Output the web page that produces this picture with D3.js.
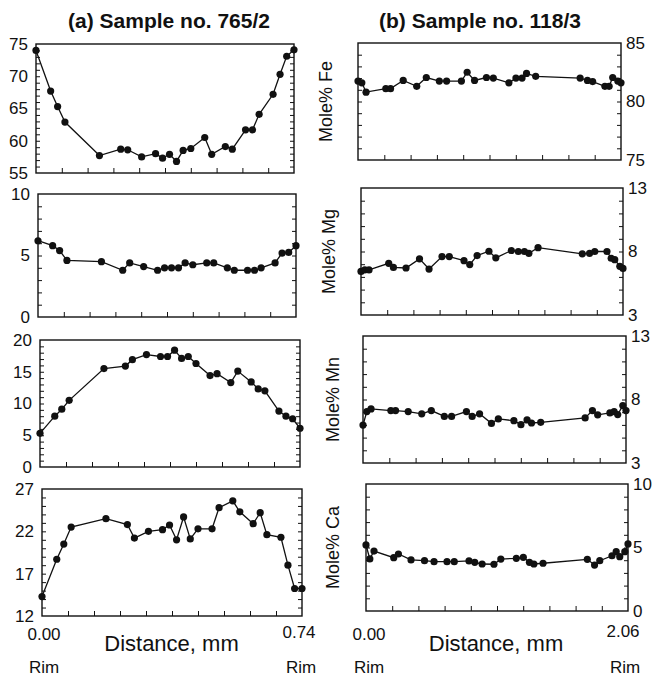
<!DOCTYPE html>
<html>
<head>
<meta charset="utf-8">
<script src="https://cdn.jsdelivr.net/npm/d3@7"></script>
<style>
body { margin: 0; background: #fff; }
svg { display: block; }
text { font-family: "Liberation Sans", Arial, Helvetica, sans-serif; fill: #111; }
</style>
</head>
<body>
<svg width="654" height="677"></svg>
<script>
// sample 765/2 : distance (mm) of each spot along the traverse
var distA = [0, 0.042, 0.062, 0.083, 0.182, 0.243, 0.263, 0.303, 0.343, 0.363, 0.383, 0.403, 0.422,
             0.444, 0.484, 0.504, 0.543, 0.563, 0.601, 0.621, 0.640, 0.680, 0.700, 0.719, 0.740];
var feA = [74.0, 67.7, 65.3, 62.9, 57.7, 58.7, 58.6, 57.5, 58.0, 57.3, 57.9, 56.8, 58.5,
           58.8, 60.5, 57.9, 59.1, 58.7, 61.7, 61.7, 64.1, 67.2, 70.3, 73.1, 74.1];
var mgA = [6.2, 5.8, 5.4, 4.6, 4.5, 3.8, 4.4, 4.1, 3.8, 4.0, 4.0, 4.0, 4.4,
           4.25, 4.4, 4.4, 4.0, 3.8, 3.8, 3.8, 4.0, 4.4, 5.2, 5.25, 5.8];
var mnA = [5.3, 8.0, 9.1, 10.5, 15.5, 15.9, 16.9, 17.7, 17.4, 17.4, 18.4, 17.1, 17.4,
           16.3, 14.4, 14.7, 13.3, 15.1, 13.4, 12.3, 12.0, 8.8, 8.0, 7.6, 6.1];
var caA = [14.3, 18.7, 20.5, 22.5, 23.5, 22.8, 21.2, 22.0, 22.2, 22.75, 21.0, 23.7, 21.1,
           22.3, 22.3, 24.8, 25.6, 24.3, 22.9, 24.2, 21.6, 21.3, 18.0, 15.25, 15.25];

// sample 118/3
var distB = [0, 0.030, 0.063, 0.218, 0.255, 0.354, 0.460, 0.535, 0.637, 0.694, 0.810, 0.855, 0.913, 1.006,
             1.060, 1.182, 1.237, 1.285, 1.320, 1.392, 1.740, 1.797, 1.838, 1.934, 1.967, 1.995, 2.035, 2.060];
var feB = [81.75, 81.6, 80.8, 81.1, 81.1, 81.8, 81.3, 82.05, 81.75, 81.75, 81.75, 82.5, 81.8, 82.05,
           82.0, 81.6, 82.0, 82.0, 82.4, 82.15, 82.0, 81.8, 81.7, 81.3, 81.3, 82.05, 81.75, 81.6];
var mgB = [6.43, 6.55, 6.55, 7.07, 6.75, 6.7, 7.42, 6.62, 7.6, 7.6, 7.28, 6.97, 7.68, 8.02,
           7.5, 8.08, 8.0, 8.0, 7.86, 8.3, 7.82, 7.86, 8.0, 8.0, 7.47, 7.36, 6.83, 6.67];
var mnB = [5.99, 7.05, 7.26, 7.13, 7.13, 7.05, 6.87, 7.13, 6.67, 6.67, 7.05, 6.67, 6.87, 6.12,
           6.47, 6.33, 6.02, 6.39, 6.15, 6.2, 6.55, 7.13, 6.79, 6.94, 7.05, 6.81, 7.52, 7.13];
var caB = [5.2, 4.1, 4.72, 4.2, 4.49, 4.02, 3.96, 3.88, 3.88, 3.88, 3.94, 3.83, 3.7, 3.68,
           4.09, 4.15, 4.23, 3.83, 3.7, 3.76, 4.07, 3.62, 3.96, 4.35, 4.67, 4.28, 4.67, 5.28];

// tick labels
var ticksFeA = [55, 60, 65, 70, 75], ticksMgA = [0, 5, 10], ticksMnA = [0, 5, 10, 15, 20], ticksCaA = [12, 17, 22, 27];
var ticksFeB = [75, 80, 85], ticksMgB = [3, 8, 13], ticksMnB = [3, 8, 13], ticksCaB = [0, 5, 10];
var yLabelsB = ['Mole% Fe', 'Mole% Mg', 'Mole% Mn', 'Mole% Ca'];

var svg = d3.select('svg');
var ink = '#111';

// box = [left, right, top, bottom] (the scan is slightly skewed)
var panels = [
  {side: 'left',  dist: distA, vals: feA, dom: [55, 75], labels: ticksFeA, box: [36, 294, 44, 173]},
  {side: 'left',  dist: distA, vals: mgA, dom: [0, 10],  labels: ticksMgA, box: [38, 296, 194, 317]},
  {side: 'left',  dist: distA, vals: mnA, dom: [0, 20],  labels: ticksMnA, box: [40, 300, 340, 467]},
  {side: 'left',  dist: distA, vals: caA, dom: [12, 27], labels: ticksCaA, box: [42, 302, 489, 616]},
  {side: 'right', dist: distB, vals: feB, dom: [75, 85], labels: ticksFeB, box: [358, 621, 43, 160], ylab: yLabelsB[0], lx: 332},
  {side: 'right', dist: distB, vals: mgB, dom: [3, 13],  labels: ticksMgB, box: [361, 623, 188, 315], ylab: yLabelsB[1], lx: 335},
  {side: 'right', dist: distB, vals: mnB, dom: [3, 13],  labels: ticksMnB, box: [363, 626, 336, 463], ylab: yLabelsB[2], lx: 339},
  {side: 'right', dist: distB, vals: caB, dom: [0, 10],  labels: ticksCaB, box: [366, 628, 484, 611], ylab: yLabelsB[3], lx: 339}
];

panels.forEach(drawPanel);

function noDomain(s) { s.select('.domain').remove(); }

function drawPanel(p) {
  var b = p.box;
  var xMax = p.dist[p.dist.length - 1];
  var x = d3.scaleLinear().domain([0, xMax]).range([b[0], b[1]]);
  var y = d3.scaleLinear().domain(p.dom).range([b[3], b[2]]);
  var g = svg.append('g');

  g.append('rect').attr('x', b[0]).attr('y', b[2]).attr('width', b[1] - b[0]).attr('height', b[3] - b[2])
    .attr('fill', 'none').attr('stroke', ink).attr('stroke-width', 1.4);

  // small inward ticks, one per unit, both sides
  var minor = d3.range(p.dom[0] + 1, p.dom[1], 1);
  g.append('g').attr('transform', `translate(${b[0]},0)`).attr('color', ink)
    .call(d3.axisLeft(y).tickValues(minor).tickSize(-4).tickFormat('')).call(noDomain);
  g.append('g').attr('transform', `translate(${b[1]},0)`).attr('color', ink)
    .call(d3.axisRight(y).tickValues(minor).tickSize(-4).tickFormat('')).call(noDomain);
  // x ticks, ten divisions
  g.append('g').attr('transform', `translate(0,${b[3]})`).attr('color', ink)
    .call(d3.axisBottom(x).tickValues(d3.range(1, 10).map(i => xMax * i / 10)).tickSize(-5).tickFormat('')).call(noDomain);

  // labelled values
  var lab = p.side == 'left'
    ? g.append('g').attr('transform', `translate(${b[0]},0)`).call(d3.axisLeft(y).tickValues(p.labels).tickSize(0).tickPadding(8))
    : g.append('g').attr('transform', `translate(${b[1]},0)`).call(d3.axisRight(y).tickValues(p.labels).tickSize(0).tickPadding(5));
  lab.call(noDomain);
  lab.attr('font-family', null).attr('font-size', null);
  lab.selectAll('text').attr('font-size', '17px').attr('fill', ink);

  if (p.ylab) {
    g.append('text').attr('transform', `translate(${p.lx},${(b[2] + b[3]) / 2}) rotate(-90)`)
      .attr('text-anchor', 'middle').attr('font-size', '18px').text(p.ylab);
  }

  var pts = d3.zip(p.dist, p.vals);
  var line = d3.line().x(d => x(d[0])).y(d => y(d[1]));
  g.append('path').datum(pts).attr('d', line).attr('fill', 'none').attr('stroke', ink).attr('stroke-width', 1.3);
  g.selectAll('circle').data(pts).enter().append('circle')
    .attr('cx', d => x(d[0])).attr('cy', d => y(d[1])).attr('r', 3.6).attr('fill', ink);
}

// titles
svg.append('text').attr('x', 169).attr('y', 28).attr('text-anchor', 'middle')
  .attr('font-size', '21px').attr('font-weight', 'bold').text('(a) Sample no. 765/2');
svg.append('text').attr('x', 480).attr('y', 28).attr('text-anchor', 'middle')
  .attr('font-size', '21px').attr('font-weight', 'bold').text('(b) Sample no. 118/3');

// x axis texts
function xTexts(x0, x1, endLabel, yEnd) {
  svg.append('text').attr('x', x0).attr('y', 640).attr('text-anchor', 'middle').attr('font-size', '17px').text('0.00');
  svg.append('text').attr('x', x1).attr('y', yEnd).attr('text-anchor', 'middle').attr('font-size', '17px').text(endLabel);
  svg.append('text').attr('x', (x0 + x1) / 2).attr('y', 651).attr('text-anchor', 'middle').attr('font-size', '22px').text('Distance, mm');
  svg.append('text').attr('x', x0).attr('y', 673).attr('text-anchor', 'middle').attr('font-size', '17px').text('Rim');
  svg.append('text').attr('x', x1 + 2).attr('y', 673).attr('text-anchor', 'middle').attr('font-size', '17px').text('Rim');
}
xTexts(44, 299, '0.74', 638);
xTexts(369, 623, '2.06', 637);
</script>
</body>
</html>
